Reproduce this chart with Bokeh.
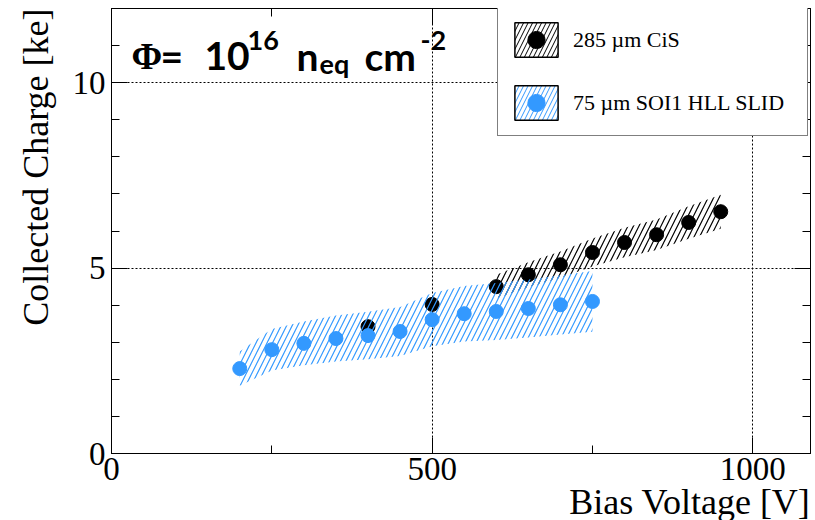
import math
import numpy as np
from bokeh.plotting import figure
from bokeh.models import (Range1d, FixedTicker, LinearAxis, Grid, Label, Legend,
                          LegendItem, ColumnDataSource, Title)
from bokeh.embed import file_html
from bokeh.resources import INLINE

nan = float("nan")

# ---- data ----
cis_voltage = [400, 500, 600, 650, 700, 750, 800, 850, 900, 950]
cis_charge = [3.42, 4.02, 4.50, 4.82, 5.09, 5.42, 5.69, 5.90, 6.23, 6.52]
cis_band_err = [nan, nan, 0.32, 0.34, 0.36, 0.38, 0.40, 0.41, 0.44, 0.46]

soi_voltage = [200, 250, 300, 350, 400, 450, 500, 550, 600, 650, 700, 750]
soi_charge = [2.29, 2.80, 2.97, 3.10, 3.18, 3.29, 3.61, 3.77, 3.83, 3.91, 4.01, 4.10]
soi_band_err = [0.46, 0.56, 0.59, 0.62, 0.64, 0.66, 0.72, 0.75, 0.77, 0.78, 0.80, 0.82]

x_major_ticks = [0, 500, 1000]
x_minor_ticks = [250, 750]
y_major_ticks = [0, 5, 10]
y_minor_ticks = [1, 2, 3, 4, 6, 7, 8, 9, 11, 12]

series_labels = ["285 \u00b5m CiS", "75 \u00b5m SOI1 HLL SLID"]
x_title = "Bias Voltage [V]"
y_title = "Collected Charge [ke]"

CIS_COLOR = "black"
SOI_COLOR = "#3399ff"

# frame placement (page pixels)
FL, FR, FT, FB = 111, 810, 8, 453

p = figure(width=815, height=520, output_backend="svg", toolbar_location=None,
           x_range=Range1d(0, 1090), y_range=Range1d(0, 12),
           x_axis_type=None, y_axis_type=None,
           min_border_left=FL, min_border_right=815 - FR,
           min_border_top=FT, min_border_bottom=520 - FB)
p.outline_line_color = "black"
p.outline_line_width = 1
p.background_fill_color = "white"
p.border_fill_color = "white"

xt = FixedTicker(ticks=x_major_ticks, minor_ticks=x_minor_ticks)
yt = FixedTicker(ticks=y_major_ticks, minor_ticks=y_minor_ticks)


def make_axis(ticker, labelled, standoff):
    ax = LinearAxis(ticker=ticker, major_tick_in=16, major_tick_out=0,
                    minor_tick_in=8, minor_tick_out=0,
                    axis_line_color="black", major_tick_line_color="black",
                    minor_tick_line_color="black",
                    major_label_standoff=standoff,
                    major_label_text_font="Liberation Serif",
                    major_label_text_font_size="33px",
                    major_label_text_color="black")
    if not labelled:
        ax.major_label_text_font_size = "1px"
        ax.major_label_text_alpha = 0
        ax.major_label_standoff = 0
    return ax


p.add_layout(make_axis(xt, True, 4), "below")
p.add_layout(make_axis(yt, True, 6), "left")
p.add_layout(make_axis(xt, False, 0), "above")
p.add_layout(make_axis(yt, False, 0), "right")

# axis titles, ROOT style (aligned with the axis end)
p.add_layout(Title(text=x_title, align="right", text_font="Liberation Serif",
                   text_font_size="36px", text_font_style="normal",
                   text_color="black", standoff=-6, offset=0), "below")
p.add_layout(Title(text=y_title, align="right", text_font="Liberation Serif",
                   text_font_size="36px", text_font_style="normal",
                   text_color="black", standoff=27, offset=0), "left")

p.add_layout(Grid(dimension=0, ticker=xt, grid_line_color="black",
                  grid_line_dash="2 2", grid_line_width=1))
p.add_layout(Grid(dimension=1, ticker=yt, grid_line_color="black",
                  grid_line_dash="2 2", grid_line_width=1))


def band_source(xs, ys, errs):
    keep = [i for i, e in enumerate(errs) if not math.isnan(e)]
    return ColumnDataSource(dict(
        x=[xs[i] for i in keep],
        lo=[ys[i] - errs[i] for i in keep],
        hi=[ys[i] + errs[i] for i in keep]))


cis_band = p.varea(x="x", y1="lo", y2="hi",
                   source=band_source(cis_voltage, cis_charge, cis_band_err),
                   fill_color=None, fill_alpha=0, hatch_pattern="/",
                   hatch_color=CIS_COLOR, hatch_scale=11, hatch_weight=1.2)
cis_pts = p.scatter(cis_voltage, cis_charge, size=14, marker="circle",
                    fill_color=CIS_COLOR, line_color=CIS_COLOR)

soi_band = p.varea(x="x", y1="lo", y2="hi",
                   source=band_source(soi_voltage, soi_charge, soi_band_err),
                   fill_color=None, fill_alpha=0, hatch_pattern="/",
                   hatch_color=SOI_COLOR, hatch_scale=11, hatch_weight=1.2)
soi_pts = p.scatter(soi_voltage, soi_charge, size=14, marker="circle",
                    fill_color=SOI_COLOR, line_color=SOI_COLOR)

# legend swatches: renderers with a single undrawable (NaN) entry, legend only
swatch_src = ColumnDataSource(dict(l=np.array([np.nan]), r=np.array([np.nan]),
                                   t=np.array([np.nan]), b=np.array([np.nan])))
cis_sw = p.quad(left="l", right="r", top="t", bottom="b", source=swatch_src,
                fill_color=None, line_color="black", line_width=1.5,
                hatch_pattern="/", hatch_color=CIS_COLOR, hatch_scale=9,
                hatch_weight=1)
soi_sw = p.quad(left="l", right="r", top="t", bottom="b", source=swatch_src,
                fill_color=None, line_color="black", line_width=1.5,
                hatch_pattern="/", hatch_color=SOI_COLOR, hatch_scale=9,
                hatch_weight=1)

legend = Legend(items=[LegendItem(label=series_labels[0], renderers=[cis_sw, cis_pts]),
                       LegendItem(label=series_labels[1], renderers=[soi_sw, soi_pts])],
                location=(497 - FL, FB - 136), padding=11, spacing=20,
                glyph_width=54, glyph_height=43, label_standoff=10, label_width=223,
                label_text_font="Liberation Serif", label_text_font_size="22px",
                label_text_color="black",
                border_line_color="black", border_line_width=1,
                background_fill_color="white", background_fill_alpha=1, margin=0)
p.add_layout(legend)


def lab(px, py, text, font, size, style="normal", align="left", angle=0.0,
        baseline="alphabetic"):
    p.add_layout(Label(x=px - FL, y=FB - py, x_units="screen", y_units="screen",
                       text=text, text_font=font, text_font_size=size,
                       text_font_style=style, text_align=align,
                       text_baseline=baseline, angle=angle, text_color="black"))


# fluence annotation
lab(131, 56, "\u03a6", "Liberation Serif", "37px", style="bold")
lab(160, 55, "=", "Lato", "39px", style="bold")
lab(204, 55, "10", "Lato", "39px", style="bold")
lab(247, 40, "16", "Lato", "27px", style="bold")
lab(296, 55, "n", "Lato", "39px", style="bold")
lab(319, 63, "eq", "Lato", "27px", style="bold")
lab(364, 55, "cm", "Lato", "39px", style="bold")
lab(420, 40, "-2", "Lato", "27px", style="bold")

open("out.html", "w").write(file_html(p, INLINE))
